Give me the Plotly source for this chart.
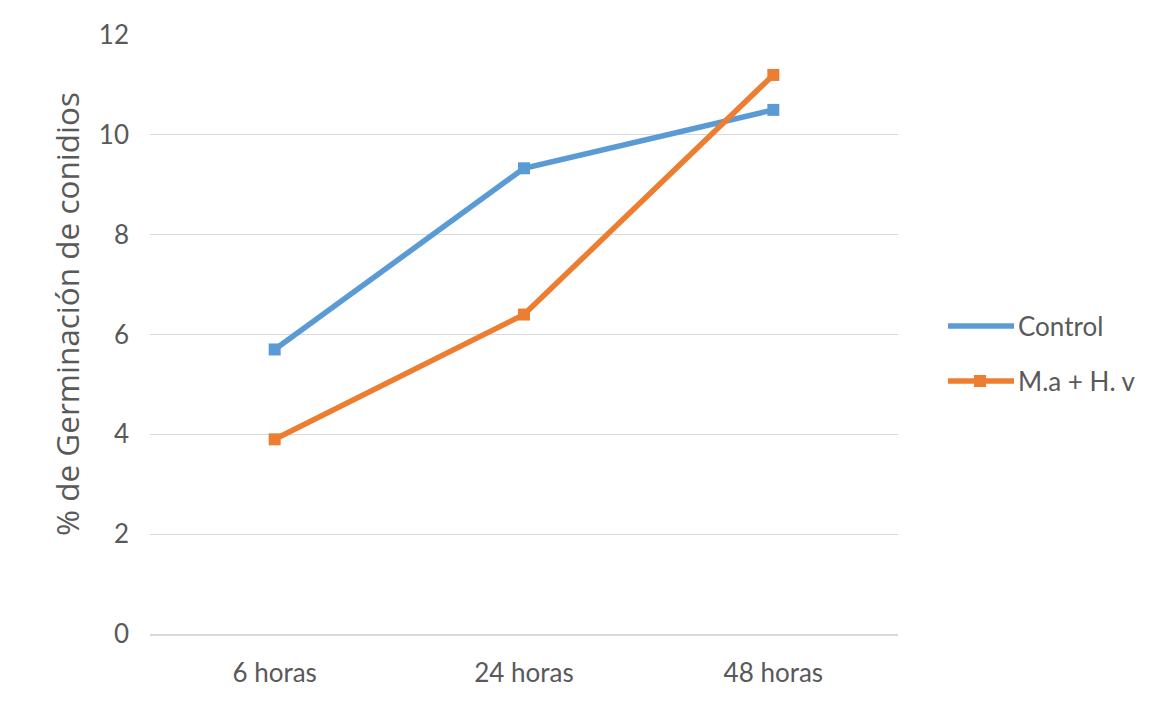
import plotly.graph_objects as go

categories = ["6 horas", "24 horas", "48 horas"]
control = [5.7, 9.33, 10.5]
tratamiento = [3.9, 6.4, 11.2]
series_names = ["Control", "M.a + H. v"]
y_ticks = [0, 2, 4, 6, 8, 10, 12]
y_title = "% de Germinación de conidios"

BLUE = "#5B9BD5"
ORANGE = "#ED7D31"
GRAY = "#595959"
FONT = "Lato"

fig = go.Figure()
fig.add_trace(go.Scatter(
    x=categories, y=control, mode="lines+markers", name=series_names[0],
    line=dict(color=BLUE, width=5.5), marker=dict(symbol="square", size=12, color=BLUE),
    showlegend=False,
))
fig.add_trace(go.Scatter(
    x=categories, y=tratamiento, mode="lines+markers", name=series_names[1],
    line=dict(color=ORANGE, width=5.5), marker=dict(symbol="square", size=12, color=ORANGE),
    showlegend=False,
))

# legend and axis title placed in paper coordinates around the plot area
W, H = 1158, 704
L, R, T, B = 150, 260, 35, 70
pw, ph = W - L - R, H - T - B


def px(x):
    return (x - L) / pw


def py(y):
    return (H - B - y) / ph


legend_items = [(series_names[0], BLUE, 326, False), (series_names[1], ORANGE, 381, True)]
for name, color, yy, mark in legend_items:
    fig.add_shape(type="line", xref="paper", yref="paper",
                  x0=px(948), x1=px(1014), y0=py(yy), y1=py(yy),
                  line=dict(color=color, width=5.5))
    if mark:
        fig.add_shape(type="rect", xref="paper", yref="paper",
                      x0=px(974), x1=px(986), y0=py(yy - 6), y1=py(yy + 6),
                      line=dict(width=0), fillcolor=color)
    fig.add_annotation(xref="paper", yref="paper", x=px(1016), y=py(yy),
                       text=name, showarrow=False, xanchor="left", yanchor="middle",
                       font=dict(family=FONT, size=26, color=GRAY))

fig.add_annotation(xref="paper", yref="paper", x=px(66), y=py(314),
                   text=y_title, textangle=-90, showarrow=False,
                   xanchor="center", yanchor="middle",
                   font=dict(family="Open Sans", size=31.5, color=GRAY))

fig.update_layout(
    width=W, height=H,
    margin=dict(l=L, r=R, t=T, b=B),
    paper_bgcolor="white", plot_bgcolor="white",
    showlegend=False,
    xaxis=dict(
        type="category", range=[-0.5, 2.5], showgrid=False,
        showline=True, linecolor="#D9D9D9", linewidth=1.5,
        ticks="", ticklabelstandoff=15,
        tickfont=dict(family=FONT, size=26, color=GRAY),
    ),
    yaxis=dict(
        range=[0, 12], tickvals=y_ticks, showgrid=True, gridcolor="#D9D9D9", gridwidth=1,
        zeroline=False, showline=False, ticks="", ticklabelstandoff=20,
        tickfont=dict(family=FONT, size=26, color=GRAY),
    ),
)

fig.write_html("out.html")
